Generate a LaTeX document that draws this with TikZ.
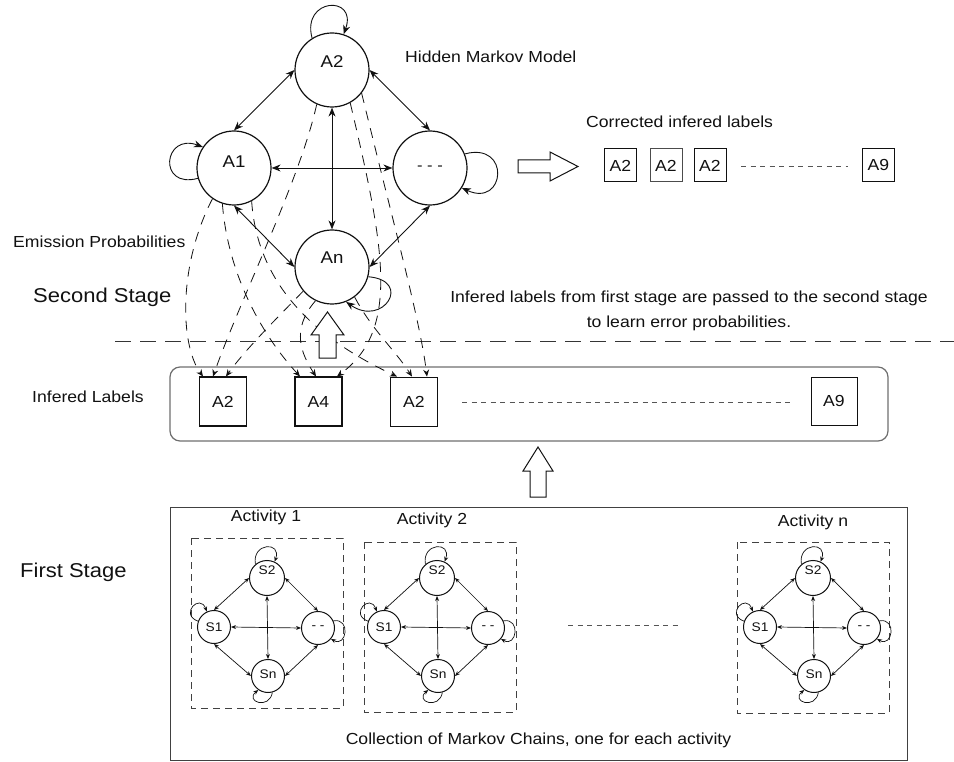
\documentclass[tikz,border=0pt]{standalone}
\usepackage{fontspec}
\setmainfont{Liberation Sans}[FakeStretch=1.1]
\usetikzlibrary{arrows.meta}
\newcommand\pxfont[1]{\fontsize{#1}{#1}\selectfont}
\definecolor{ink}{HTML}{111111}
\definecolor{frame}{HTML}{6E6E6E}
\definecolor{dots}{HTML}{555555}
\begin{document}
\begin{tikzpicture}[x=1pt,y=1pt,
  every node/.style={text=ink},
  hmmstate/.style={circle, draw=ink, line width=1.2pt, minimum size=74pt, inner sep=0pt},
  smallstate/.style={circle, draw=ink, line width=1pt, minimum size=33pt, inner sep=0pt},
  hmmtext/.style={font=\pxfont{17}, inner sep=0pt},
  smalltext/.style={font=\pxfont{12.5}, inner sep=0pt},
  plain/.style={font=\pxfont{16}, inner sep=0pt},
  big/.style={font=\pxfont{20}, inner sep=0pt},
  hmmedge/.style={draw=ink, line width=0.9pt, {Stealth[length=9pt,width=7pt]}-{Stealth[length=9pt,width=7pt]}},
  hmmloop/.style={draw=ink, line width=0.9pt, -{Stealth[length=9pt,width=7pt]}},
  smalledge/.style={draw=ink, line width=0.7pt, {Stealth[length=5pt,width=4pt]}-{Stealth[length=5pt,width=4pt]}},
  smallloop/.style={draw=ink, line width=0.7pt, -{Stealth[length=5pt,width=4pt]}},
  emit/.style={draw=ink, line width=0.8pt, dash pattern=on 10pt off 8pt, -{Stealth[length=7pt,width=6pt]}},
  labelbox/.style={draw=ink, line width=1.1pt, minimum width=47pt, minimum height=49pt, inner sep=0pt, font=\pxfont{16}},
  outbox/.style={draw=ink, line width=1pt, minimum width=32pt, minimum height=33pt, inner sep=0pt, font=\pxfont{16}},
  hollow/.style={draw=ink, line width=1pt, fill=white, line join=miter},
  dotline/.style={draw=dots, line width=0.8pt, dash pattern=on 5pt off 4.5pt},
  actbox/.style={draw=ink!80, line width=0.8pt, dash pattern=on 7pt off 5pt}
]
\useasboundingbox (0,0) rectangle (954,-762);

% ---------------- Hidden Markov Model ----------------
\node[hmmstate] (A2) at (332,-70) {};
\node[hmmstate] (A1) at (234,-168) {};
\node[hmmstate] (A3) at (430,-168) {};
\node[hmmstate] (An) at (332,-267) {};
\node[hmmtext] (A2t) at ([yshift=8pt]A2.center) {A2};
\node[hmmtext] (A1t) at ([yshift=6pt]A1.center) {A1};
\node[hmmtext, font=\pxfont{15}] (A3t) at (A3.center) {- - -};
\node[hmmtext] (Ant) at ([yshift=9pt]An.center) {An};

\draw[hmmedge] (A2.west) -- (A1.north);
\draw[hmmedge] (A2.east) -- (A3.north);
\draw[hmmedge] (A1.south) -- (An.west);
\draw[hmmedge] (A3.south) -- (An.east);
\draw[hmmedge] (A1.east) -- (A3.west);
\draw[hmmedge] (A2.south) -- (An.north);

\draw[hmmloop] (A2.122) .. controls +(105:42) and +(70:42) .. (A2.72);
\draw[hmmloop] (A1.196) .. controls +(195:42) and +(160:42) .. (A1.146);
\draw[hmmloop] (A3.22) .. controls +(15:48) and +(-25:48) .. (A3.-32);
\draw[hmmloop] (An.-15) .. controls +(-5:45) and +(-35:45) .. (An.-68);

\node[plain, anchor=base west] (hmmlabel) at (405,-63) {Hidden Markov Model};

% ---------------- corrected labels ----------------
\draw[hollow] (518,-160) -- (550,-160) -- (550,-152) -- (578,-166.5) -- (550,-181) -- (550,-173) -- (518,-173) -- cycle;
\node[plain, anchor=base west] (corrlabel) at (586,-128) {Corrected infered labels};
\node[outbox] (c1) at (620.5,-165.5) {A2};
\node[outbox, draw=ink!75] (c2) at (666,-165.5) {A2};
\node[outbox] (c3) at (710,-165.5) {A2};
\node[outbox] (c4) at (878.5,-165) {A9};
\draw[dotline] (741,-166) -- (848,-166);

% ---------------- text of the second stage ----------------
\node[plain, anchor=base west] (emis) at (13,-248) {Emission Probabilities};
\node[big, anchor=base west] (second) at (33,-303) {Second Stage};
\node[plain, anchor=base] (pass1) at (689,-303) {Infered labels from first stage are passed to the second stage};
\node[plain, anchor=base] (pass2) at (689,-328) {to learn error probabilities.};

% stage separator
\draw[draw=ink!85, line width=1pt, dash pattern=on 16pt off 9pt] (115,-341.5) -- (954,-341.5);

% ---------------- inferred labels ----------------
\draw[draw=frame, line width=1.2pt, rounded corners=10pt] (170,-367) rectangle (888,-441);
\node[plain, anchor=base west] (inflabel) at (32,-402) {Infered Labels};
\node[labelbox] (b1) at (223,-401.5) {A2};
\node[labelbox] (b2) at (318.5,-401.5) {A4};
\node[labelbox, line width=0.9pt] (b3) at (414,-401.5) {A2};
\node[labelbox, line width=0.9pt, minimum width=46pt, minimum height=48pt] (b4) at (834,-401) {A9};
\draw[dotline] (462,-402) -- (792,-402);

% emission probabilities
\draw[emit] (A1.235) .. controls (178,-265) and (180,-345) .. ([xshift=-20pt]b1.north);
\draw[emit] (A1.252) .. controls (228,-275) and (262,-335) .. ([xshift=-18.5pt]b2.north);
\draw[emit] (A1.298) .. controls (258,-295) and (330,-345) .. ([xshift=-17pt]b3.north);
\draw[emit] (A2.246) .. controls (300,-180) and (240,-300) .. ([xshift=-10pt]b1.north);
\draw[emit] (A2.299) .. controls (385,-250) and (400,-330) .. ([xshift=18.5pt]b2.north);
\draw[emit] (A2.322) .. controls (395,-230) and (420,-320) .. ([xshift=13pt]b3.north);
\draw[emit] (An.220) .. controls (275,-320) and (245,-350) .. ([xshift=3pt]b1.north);
\draw[emit] (An.244) .. controls (290,-330) and (302,-355) .. ([xshift=-2.5pt]b2.north);
\draw[emit] (An.307) .. controls (372,-330) and (395,-350) .. ([xshift=-2pt]b3.north);

% hollow arrow from the inferred labels to the model
\draw[hollow] (319,-358) -- (319,-335) -- (311,-335) -- (327.5,-312) -- (344,-335) -- (336,-335) -- (336,-358) -- cycle;

% hollow arrow from the first stage to the inferred labels
\draw[hollow] (530,-497) -- (530,-471) -- (523,-471) -- (538,-447) -- (553,-471) -- (546,-471) -- (546,-497) -- cycle;

% ---------------- first stage ----------------
\draw[draw=ink!80, line width=1pt] (170,-507.5) rectangle (907.5,-760.5);
\node[big, anchor=base west] (first) at (20,-577) {First Stage};
\node[plain, anchor=base] (collect) at (538.5,-744) {Collection of Markov Chains, one for each activity};

\draw[actbox] (191,-538) rectangle (343,-708);
\draw[actbox] (364,-542) rectangle (516,-712);
\draw[actbox] (737,-542) rectangle (889,-713);
\node[plain] (act1) at (266,-517) {Activity 1};
\node[plain] (act2) at (432,-520) {Activity 2};
\node[plain] (actn) at (813,-522) {Activity n};
\draw[dotline] (568,-625) -- (678,-625);

\foreach \p/\dx in {a/0, b/170, c/546} {
  \begin{scope}[xshift=\dx pt]
    \node[smallstate, minimum size=35pt] (\p S2) at (267,-578) {};
    \node[smallstate] (\p S1) at (214,-627) {};
    \node[smallstate] (\p S3) at (318,-628) {};
    \node[smallstate] (\p Sn) at (268,-676) {};
    \node[smalltext] (\p S2t) at ([yshift=8pt]\p S2.center) {S2};
    \node[smalltext] (\p S1t) at (\p S1.center) {S1};
    \node[smalltext] (\p S3t) at (\p S3.center) {- -};
    \node[smalltext] (\p Snt) at ([yshift=2pt]\p Sn.center) {Sn};
    \draw[smalledge] (\p S2.west) -- (\p S1.north);
    \draw[smalledge] (\p S2.east) -- (\p S3.north);
    \draw[smalledge] (\p S1.south) -- (\p Sn.west);
    \draw[smalledge] (\p S3.south) -- (\p Sn.east);
    \draw[smalledge] (\p S1.east) -- (\p S3.west);
    \draw[smalledge] (\p S2.south) -- (\p Sn.north);
    \draw[smallloop] (\p S2.130) .. controls +(100:22) and +(70:22) .. (\p S2.65);
    \draw[smallloop] (\p S1.160) .. controls +(160:20) and +(110:20) .. (\p S1.115);
    \draw[smallloop] (\p S3.25) .. controls +(10:18) and +(-30:18) .. (\p S3.-40);
    \draw[smallloop] (\p Sn.-75) .. controls +(-100:18) and +(220:18) .. (\p Sn.235);
  \end{scope}
}
\end{tikzpicture}
\end{document}
